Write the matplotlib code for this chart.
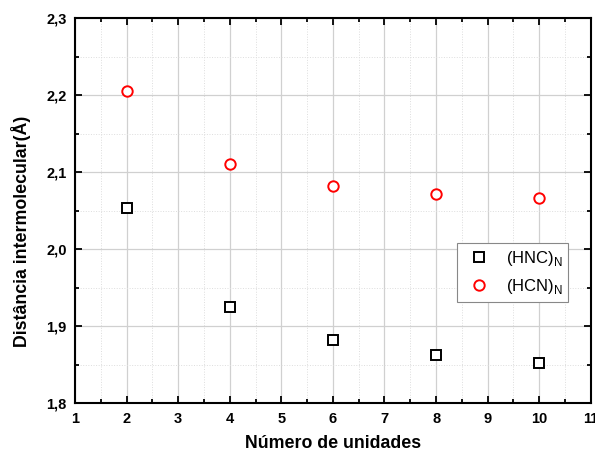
import matplotlib
matplotlib.use("Agg")
import matplotlib.pyplot as plt
from matplotlib.ticker import MultipleLocator, FuncFormatter

# number of units in the cluster
n_units = [2, 4, 6, 8, 10]

# intermolecular distances (Angstrom)
hnc_dist = [2.054, 1.925, 1.882, 1.862, 1.852]
hcn_dist = [2.206, 2.110, 2.082, 2.071, 2.066]

plt.rcParams["font.family"] = ["Liberation Sans", "DejaVu Sans"]

fig = plt.figure(figsize=(5.95, 4.53), dpi=100)
ax = fig.add_axes([0.126, 0.110, 0.867, 0.850])

ax.plot(n_units, hnc_dist, linestyle="none", marker="s", ms=6.5,
        mfc="white", mec="black", mew=1.4, label=r"(HNC)$_\mathregular{N}$")
ax.plot(n_units, hcn_dist, linestyle="none", marker="o", ms=7.5,
        mfc="white", mec="red", mew=1.4, label=r"(HCN)$_\mathregular{N}$")

ax.set_xlim(1, 11)
ax.set_ylim(1.8, 2.3)
ax.xaxis.set_major_locator(MultipleLocator(1))
ax.xaxis.set_minor_locator(MultipleLocator(0.5))
ax.yaxis.set_major_locator(MultipleLocator(0.1))
ax.yaxis.set_minor_locator(MultipleLocator(0.05))
ax.yaxis.set_major_formatter(FuncFormatter(lambda v, p: f"{v:.1f}".replace(".", ",")))
ax.xaxis.set_major_formatter(FuncFormatter(lambda v, p: f"{v:.0f}"))

ax.grid(which="major", color="#d0d0d0", linewidth=0.9, linestyle="-")
ax.grid(which="minor", color="#dddddd", linewidth=0.7, linestyle=":")
ax.set_axisbelow(True)

ax.tick_params(which="both", direction="in", top=True, right=True, width=1.3)
ax.tick_params(which="major", length=5, labelsize=10.5, pad=6)
ax.tick_params(which="minor", length=3)
for lbl in ax.get_xticklabels() + ax.get_yticklabels():
    lbl.set_fontweight("bold")
for sp in ax.spines.values():
    sp.set_linewidth(1.5)

ax.set_xlabel("Número de unidades", fontsize=12.8, fontweight="bold", labelpad=7)
ax.set_ylabel("Distância intermolecular(Å)", fontsize=12.8, fontweight="bold")
ax.yaxis.set_label_coords(-0.085, 0.447)

leg = ax.legend(loc="upper left", bbox_to_anchor=(0.740, 0.416),
                fontsize=12, fancybox=False, framealpha=1, edgecolor="#888888",
                handlelength=2.0, handletextpad=0.6, borderpad=0.35,
                labelspacing=0.55, borderaxespad=0)
leg.get_frame().set_linewidth(0.8)

fig.savefig("out.png", dpi=100)
